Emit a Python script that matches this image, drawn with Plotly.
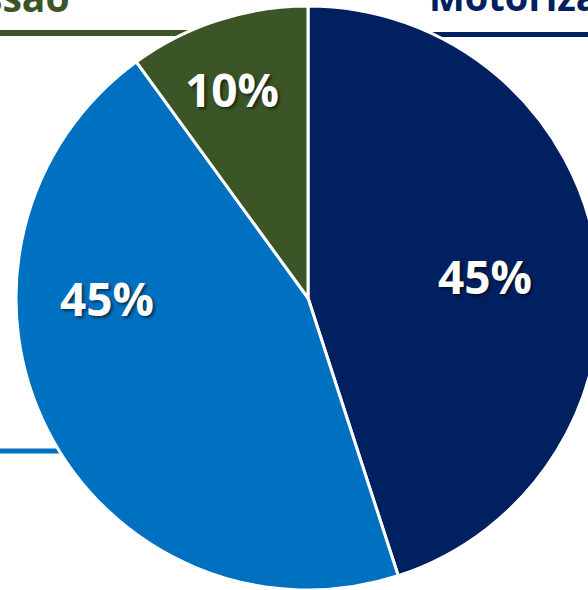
import math
import plotly.graph_objects as go

labels = ["Motorizado", "Manual", "Transmissão"]
values = [45, 45, 10]
colors = ["#002060", "#0070C0", "#3B5526"]
# where each percentage label sits: angle clockwise from 12 o'clock, and fraction of radius
label_angle = [83, 270, 340]
label_rfrac = [0.61, 0.69, 0.76]

W, H = 600, 590
X0, Y0, DIAM = 16, 6, 584  # pie bounding box in pixels (from top-left)

fig = go.Figure(
    go.Pie(
        labels=labels,
        values=values,
        sort=False,
        direction="clockwise",
        rotation=0,
        marker=dict(colors=colors, line=dict(color="white", width=3)),
        textinfo="none",
        domain=dict(x=[X0 / W, (X0 + DIAM) / W], y=[1 - (Y0 + DIAM) / H, 1 - Y0 / H]),
        hoverinfo="skip",
    )
)

cx, cy, R = X0 + DIAM / 2, Y0 + DIAM / 2, DIAM / 2
total = sum(values)
for v, a, rf in zip(values, label_angle, label_rfrac):
    px = cx + rf * R * math.sin(math.radians(a))
    py = cy - rf * R * math.cos(math.radians(a))
    fig.add_annotation(text=f"{round(100 * v / total)}%", xref="paper", yref="paper",
                       x=px / W, y=1 - py / H, xanchor="center", yanchor="middle",
                       showarrow=False,
                       font=dict(family="Open Sans", size=46, color="white", weight="bold",
                                 shadow="2px 2px 3px rgba(0,0,0,0.55)"))

# leader lines of the (cropped) category labels
fig.add_shape(type="line", xref="paper", yref="paper", x0=0, x1=300 / W,
              y0=1 - 33 / H, y1=1 - 33 / H, line=dict(color="#3B5526", width=6), layer="below")
fig.add_shape(type="line", xref="paper", yref="paper", x0=400 / W, x1=1,
              y0=1 - 34.5 / H, y1=1 - 34.5 / H, line=dict(color="#002060", width=5), layer="below")
fig.add_shape(type="line", xref="paper", yref="paper", x0=0, x1=100 / W,
              y0=1 - 451 / H, y1=1 - 451 / H, line=dict(color="#0070C0", width=5), layer="below")

fig.add_annotation(text="Transmissão", xref="paper", yref="paper", x=72 / W, y=1 - 25 / H,
                   xanchor="right", yanchor="bottom", showarrow=False,
                   font=dict(family="Open Sans", size=39, color="#3B5526", weight="bold"))
fig.add_annotation(text="Motorização", xref="paper", yref="paper", x=427 / W, y=1 - 24 / H,
                   xanchor="left", yanchor="bottom", showarrow=False,
                   font=dict(family="Open Sans", size=38, color="#002060", weight="bold"))

fig.update_layout(width=W, height=H, margin=dict(l=0, r=0, t=0, b=0),
                  paper_bgcolor="white", plot_bgcolor="white", showlegend=False)

fig.write_html("out.html", config={"displayModeBar": False},
               post_script="document.body.style.margin='0';document.body.style.overflow='hidden';")
